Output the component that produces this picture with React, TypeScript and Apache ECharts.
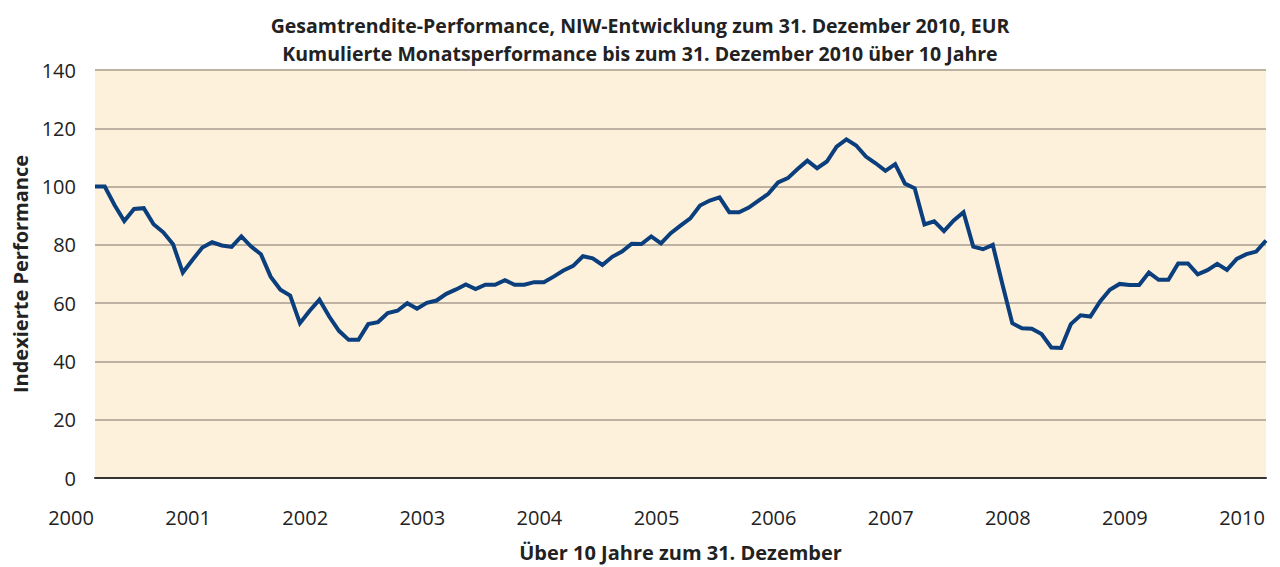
import React, { useEffect, useRef } from "react";
import * as echarts from "echarts";

const titleLines = [
  "Gesamtrendite-Performance, NIW-Entwicklung zum 31. Dezember 2010, EUR",
  "Kumulierte Monatsperformance bis zum 31. Dezember 2010 über 10 Jahre",
];
const yAxisTitle = "Indexierte Performance";
const xAxisTitle = "Über 10 Jahre zum 31. Dezember";
const yearLabels = ["2000", "2001", "2002", "2003", "2004", "2005", "2006", "2007", "2008", "2009", "2010"];

const performance = [
  100, 100, 93.7, 88.2, 92.3, 92.6, 87.1, 84.3, 80.2, 70.5, 74.9, 79.1,
  80.9, 79.8, 79.3, 82.9, 79.4, 76.8, 69.1, 64.6, 62.6, 53.1, 57.4, 61.2,
  55.4, 50.5, 47.4, 47.4, 52.8, 53.5, 56.6, 57.4, 60.0, 58.1, 60.1, 60.9,
  63.2, 64.7, 66.4, 64.8, 66.3, 66.3, 67.9, 66.3, 66.3, 67.2, 67.2, 69.1,
  71.2, 72.8, 76.1, 75.4, 73.1, 75.9, 77.7, 80.4, 80.3, 82.9, 80.5, 84.0,
  86.6, 89.1, 93.5, 95.2, 96.3, 91.2, 91.2, 92.8, 95.2, 97.5, 101.4, 102.9,
  106.0, 108.9, 106.3, 108.6, 113.7, 116.2, 114.1, 110.3, 108.0, 105.4, 107.7, 101.0,
  99.4, 87.0, 88.1, 84.7, 88.4, 91.2, 79.4, 78.5, 80.0, 66.3, 53.1, 51.4,
  51.2, 49.4, 44.8, 44.6, 52.8, 55.8, 55.4, 60.6, 64.6, 66.6, 66.2, 66.2,
  70.5, 68.0, 68.0, 73.6, 73.6, 69.9, 71.3, 73.5, 71.4, 75.2, 76.8, 77.7,
  81.5,
];

// one category per month; a year label every 12 months
const months = performance.map((_, i) => (i % 12 === 0 ? yearLabels[i / 12] : ""));

const FONT = "'Open Sans', 'Noto Sans', sans-serif";
const TEXT = "#222222";

export default function App() {
  const ref = useRef<HTMLDivElement>(null);
  useEffect(() => {
    if (!ref.current) return;
    const chart = echarts.init(ref.current, undefined, { renderer: "svg" });
    chart.setOption({
      animation: false,
      backgroundColor: "#ffffff",
      textStyle: { fontFamily: FONT },
      title: {
        text: titleLines.join("\n"),
        left: "center",
        top: 6,
        textStyle: {
          fontFamily: FONT,
          fontSize: 19.5,
          fontWeight: "bold",
          color: TEXT,
          lineHeight: 28,
        },
      },
      grid: {
        left: 95,
        right: 14,
        top: 70,
        bottom: 89,
        show: true,
        backgroundColor: "#FDF1DC",
        borderWidth: 0,
        containLabel: false,
      },
      xAxis: {
        type: "category",
        data: months,
        boundaryGap: false,
        name: xAxisTitle,
        nameLocation: "middle",
        nameGap: 64,
        nameTextStyle: { fontFamily: FONT, fontSize: 20, fontWeight: "bold", color: TEXT },
        axisLine: { show: true, lineStyle: { color: "#333333", width: 2 } },
        axisTick: { show: false },
        splitLine: { show: false },
        axisLabel: {
          interval: 11,
          showMaxLabel: true,
          margin: 29,
          fontFamily: FONT,
          fontSize: 20,
          color: TEXT,
          padding: [0, 48, 0, 0],
        },
      },
      yAxis: {
        type: "value",
        min: 0,
        max: 140,
        interval: 20,
        name: yAxisTitle,
        nameLocation: "middle",
        nameGap: 65,
        nameRotate: 90,
        nameTextStyle: { fontFamily: FONT, fontSize: 20, fontWeight: "bold", color: TEXT },
        axisLine: { show: false },
        axisTick: { show: false },
        axisLabel: {
          margin: 19,
          fontFamily: FONT,
          fontSize: 20,
          color: TEXT,
          padding: [10, 0, 0, 0],
        },
        splitLine: { show: true, lineStyle: { color: "#BDB1A2", width: 2 } },
      },
      series: [
        {
          type: "line",
          data: performance,
          showSymbol: false,
          symbol: "none",
          lineStyle: { color: "#0B3E7C", width: 4, join: "miter" },
          z: 3,
        },
      ],
    });
    return () => chart.dispose();
  }, []);
  return (
    <div
      ref={ref}
      style={{ position: "fixed", left: 0, top: 0, width: 1280, height: 567 }}
    />
  );
}
